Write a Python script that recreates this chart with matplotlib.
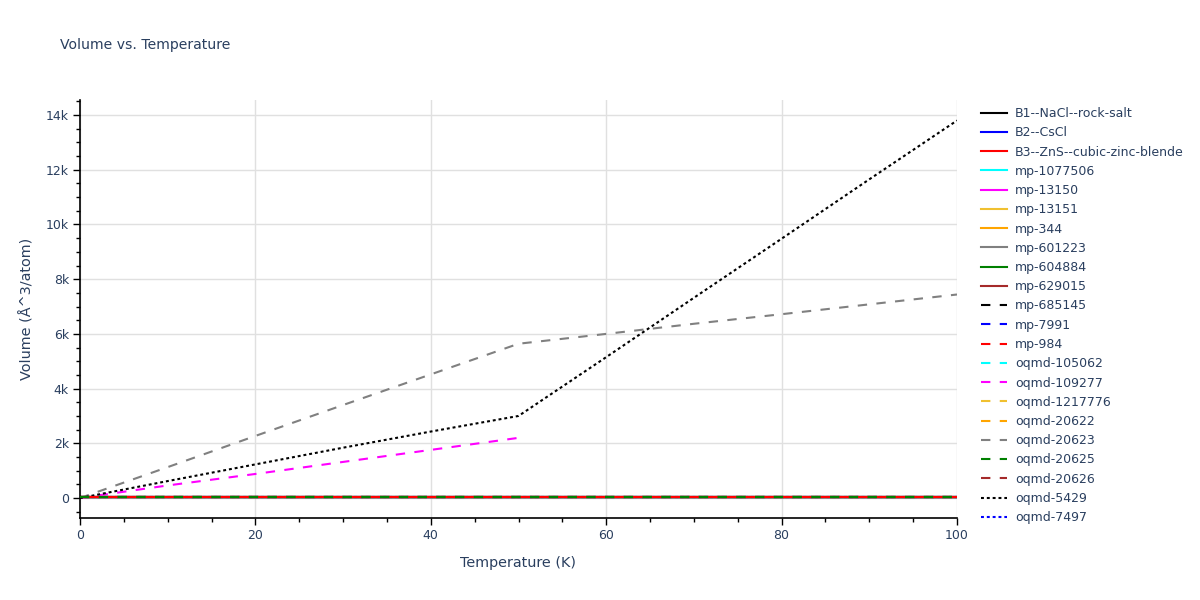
import matplotlib
matplotlib.use('Agg')
import matplotlib.pyplot as plt
from matplotlib.ticker import FuncFormatter, MultipleLocator

plt.rcParams['font.family'] = ['DejaVu Sans']

# ---------------------------------------------------------------------------
# Data
# ---------------------------------------------------------------------------
temperature = [0, 10, 20, 30, 40, 50, 60, 70, 80, 90, 100]
temperature_half = [0, 10, 20, 30, 40, 50]

b1_nacl = [29, 29, 29, 29, 29, 29, 29, 29, 29, 29, 29]
b2_cscl = [27, 27, 27, 27, 27, 27, 27, 27, 27, 27, 27]
b3_zns = [36, 36, 36, 36, 36, 36, 36, 36, 36, 36, 36]
mp_1077506 = [30, 30, 30, 30, 30, 30, 30, 30, 30, 30, 30]
mp_13150 = [33, 33, 33, 33, 33, 33, 33, 33, 33, 33, 33]
mp_13151 = [34, 34, 34, 34, 34, 34, 34, 34, 34, 34, 34]
mp_344 = [31, 31, 31, 31, 31, 31, 31, 31, 31, 31, 31]
mp_601223 = [35, 35, 35, 35, 35, 35, 35, 35, 35, 35, 35]
mp_604884 = [37, 37, 37, 37, 37, 37, 37, 37, 37, 37, 37]
mp_629015 = [32, 32, 32, 32, 32, 32, 32, 32, 32, 32, 32]
mp_685145 = [28, 28, 28, 28, 28, 28, 28, 28, 28, 28, 28]
mp_7991 = [27, 27, 27, 27, 27, 27, 27, 27, 27, 27, 27]
mp_984 = [36, 36, 36, 36, 36, 36, 36, 36, 36, 36, 36]
oqmd_105062 = [30, 30, 30, 30, 30, 30, 30, 30, 30, 30, 30]
oqmd_109277 = [0, 460, 880, 1320, 1760, 2200]
oqmd_1217776 = [34, 34, 34, 34, 34, 34, 34, 34, 34, 34, 34]
oqmd_20622 = [31, 31, 31, 31, 31, 31, 31, 31, 31, 31, 31]
oqmd_20623 = [0, 1130, 2270, 3400, 4520, 5640, 6000, 6370, 6720, 7080, 7440]
oqmd_20625 = [48, 48, 48, 48, 48, 48, 48, 48, 48, 48, 48]
oqmd_20626 = [33, 33, 33, 33, 33, 33, 33, 33, 33, 33, 33]
oqmd_5429 = [0, 620, 1230, 1840, 2430, 3000, 5150, 7320, 9480, 11650, 13800]
oqmd_7497 = [28, 28, 28, 28, 28, 28, 28, 28, 28, 28, 28]

# (label, x, y, colour, style)
series = [
    ('B1--NaCl--rock-salt', temperature, b1_nacl, 'black', 'solid'),
    ('B2--CsCl', temperature, b2_cscl, 'blue', 'solid'),
    ('B3--ZnS--cubic-zinc-blende', temperature, b3_zns, 'red', 'solid'),
    ('mp-1077506', temperature, mp_1077506, 'cyan', 'solid'),
    ('mp-13150', temperature, mp_13150, 'magenta', 'solid'),
    ('mp-13151', temperature, mp_13151, '#f0c030', 'solid'),
    ('mp-344', temperature, mp_344, 'orange', 'solid'),
    ('mp-601223', temperature, mp_601223, 'gray', 'solid'),
    ('mp-604884', temperature, mp_604884, 'green', 'solid'),
    ('mp-629015', temperature, mp_629015, 'brown', 'solid'),
    ('mp-685145', temperature, mp_685145, 'black', 'dash'),
    ('mp-7991', temperature, mp_7991, 'blue', 'dash'),
    ('mp-984', temperature, mp_984, 'red', 'dash'),
    ('oqmd-105062', temperature, oqmd_105062, 'cyan', 'dash'),
    ('oqmd-109277', temperature_half, oqmd_109277, 'magenta', 'dash'),
    ('oqmd-1217776', temperature, oqmd_1217776, '#f0c030', 'dash'),
    ('oqmd-20622', temperature, oqmd_20622, 'orange', 'dash'),
    ('oqmd-20623', temperature, oqmd_20623, 'gray', 'dash'),
    ('oqmd-20625', temperature, oqmd_20625, 'green', 'dash'),
    ('oqmd-20626', temperature, oqmd_20626, 'brown', 'dash'),
    ('oqmd-5429', temperature, oqmd_5429, 'black', 'dot'),
    ('oqmd-7497', temperature, oqmd_7497, 'blue', 'dot'),
]

dashes = {'solid': None, 'dash': (4.5, 4.5), 'dot': (1.4, 1.4)}
# the flat lines near zero overlap; in the reference red and green dashes end up on top
on_top = {'B3--ZnS--cubic-zinc-blende': 3, 'oqmd-20625': 4}

TEXT = '#2a3f5f'
LW = 1.5

# ---------------------------------------------------------------------------
# Plot
# ---------------------------------------------------------------------------
fig = plt.figure(figsize=(12, 6), dpi=100)
ax = fig.add_axes([80 / 1200, 82 / 600, 877 / 1200, 418 / 600])

ax.axhline(0, color='#999999', lw=1.2, zorder=1)
for label, x, y, color, style in series:
    line, = ax.plot(x, y, color=color, lw=LW, label=label, zorder=on_top.get(label, 2))
    if dashes[style] is not None:
        line.set_dashes(dashes[style])

ax.set_xlim(0, 100)
ax.set_ylim(-730, 14550)
ax.xaxis.set_major_locator(MultipleLocator(20))
ax.xaxis.set_minor_locator(MultipleLocator(5))
ax.yaxis.set_major_locator(MultipleLocator(2000))
ax.yaxis.set_minor_locator(MultipleLocator(500))
ax.yaxis.set_major_formatter(FuncFormatter(lambda v, p: '0' if v == 0 else f'{v / 1000:g}k'))
ax.grid(True, which='major', color='#e0e0e0', lw=1.0, zorder=0)
ax.set_axisbelow(True)

for side in ('top', 'right'):
    ax.spines[side].set_visible(False)
for side in ('left', 'bottom'):
    ax.spines[side].set_color('black')
    ax.spines[side].set_linewidth(1.2)

ax.tick_params(which='major', length=5, width=1, color='black', labelsize=9, labelcolor=TEXT, pad=3)
ax.tick_params(which='minor', length=3, width=1, color='black')

ax.set_xlabel('Temperature (K)', fontsize=10.4, color=TEXT, labelpad=10)
ax.set_ylabel('Volume (Å^3/atom)', fontsize=10.4, color=TEXT, labelpad=8)
fig.text(60 / 1200, 1 - 45 / 600, 'Volume vs. Temperature', fontsize=10.1, color=TEXT, va='center', ha='left')

leg = ax.legend(loc='upper left', bbox_to_anchor=(981 / 1200, 1 - 107 / 600), bbox_transform=fig.transFigure,
                frameon=False, fontsize=9, handlelength=2.08, handletextpad=0.64, labelspacing=0.5,
                borderaxespad=0, borderpad=0)
for t in leg.get_texts():
    t.set_color(TEXT)

fig.savefig('out.png', dpi=100)
